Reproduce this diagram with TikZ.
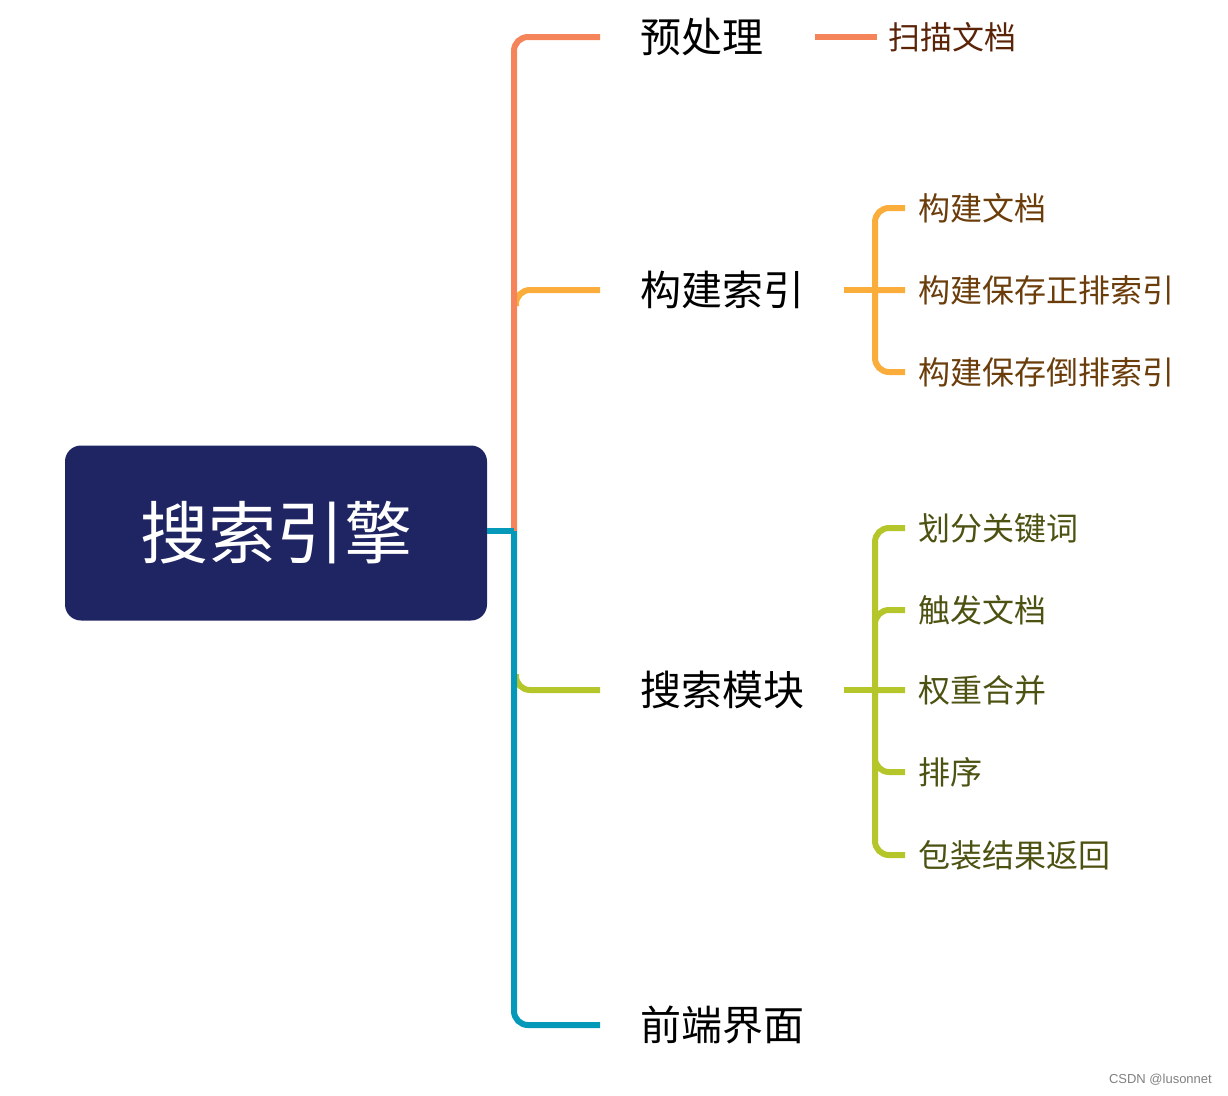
\documentclass[tikz,border=0pt]{standalone}
\usepackage{fontspec}
\usepackage{xcolor}
\usepackage{tikz}
\usetikzlibrary{positioning}
\newfontfamily\cjk{Noto Sans CJK SC}
\newfontfamily\wmark{Liberation Sans}
\definecolor{rootblue}{HTML}{1F2563}
\definecolor{brcoral}{HTML}{F5845A}
\definecolor{bramber}{HTML}{FBAD3C}
\definecolor{brlime}{HTML}{B5C62B}
\definecolor{brteal}{HTML}{0599B9}
\definecolor{txcoral}{HTML}{5B2409}
\definecolor{txamber}{HTML}{6B3D0B}
\definecolor{txlime}{HTML}{4D5212}

\begin{document}
\begin{tikzpicture}[x=1pt,y=-1pt,
  rootbox/.style={fill=rootblue,rounded corners=16pt,minimum width=422pt,minimum height=175pt,
    text=white,font=\cjk\fontsize{68}{68}\selectfont},
  topic/.style={anchor=west,inner xsep=40pt,inner ysep=0pt,font=\cjk\fontsize{41}{41}\selectfont},
  leaf/.style={anchor=west,inner xsep=13pt,inner ysep=0pt,font=\cjk\fontsize{32}{32}\selectfont},
  branch/.style={line width=6pt,rounded corners=14pt}]
  \useasboundingbox (0,0) rectangle (1228,1095);
  % root
  \node[rootbox] (root) at (276,533) {搜索引擎};
  % topics
  \node[topic] (pre) at (600,37) {预处理};
  \node[topic] (idx) at (600,290) {构建索引};
  \node[topic] (srch) at (600,690) {搜索模块};
  \node[topic] (front) at (600,1025) {前端界面};
  % leaves
  \node[leaf,inner xsep=11pt,text=txcoral] (scan) at (877,37) {扫描文档};
  \node[leaf,text=txamber] (idx1) at (905,208) {构建文档};
  \node[leaf,text=txamber] (idx2) at (905,290) {构建保存正排索引};
  \node[leaf,text=txamber] (idx3) at (905,372) {构建保存倒排索引};
  \node[leaf,text=txlime] (s1) at (905,528) {划分关键词};
  \node[leaf,text=txlime] (s2) at (905,610) {触发文档};
  \node[leaf,text=txlime] (s3) at (905,690) {权重合并};
  \node[leaf,text=txlime] (s4) at (905,772) {排序};
  \node[leaf,text=txlime] (s5) at (905,855) {包装结果返回};
  % branches under the trunk
  \draw[branch,bramber] (516,306) |- (idx.west);
  \draw[branch,brlime] (516,674) |- (srch.west);
  % trunk
  \coordinate (j) at (514,531);
  \draw[branch,brcoral] (j) |- (pre.west);
  \draw[branch,brteal] (j) |- (front.west);
  \draw[branch,brteal] (root.east |- j) -- (j);
  % second level
  \draw[branch,brcoral] (pre.east -| 815,0) -- (scan.west);
  \draw[branch,bramber] (idx.east) -- (875,290) coordinate (ja);
  \draw[branch,bramber] (ja) |- (idx1.west) (ja) -- (idx2.west) (ja) |- (idx3.west);
  \draw[branch,brlime] (srch.east) -- (875,690) coordinate (jl);
  \draw[branch,brlime] (jl) |- (s1.west) (jl) |- (s2.west) (jl) -- (s3.west)
    (jl) |- (s4.west) (jl) |- (s5.west);
  \node[gray,font=\wmark\fontsize{13}{13}\selectfont,anchor=east,inner sep=0pt] (mark) at (1212,1080) {CSDN @lusonnet};
\end{tikzpicture}
\end{document}
